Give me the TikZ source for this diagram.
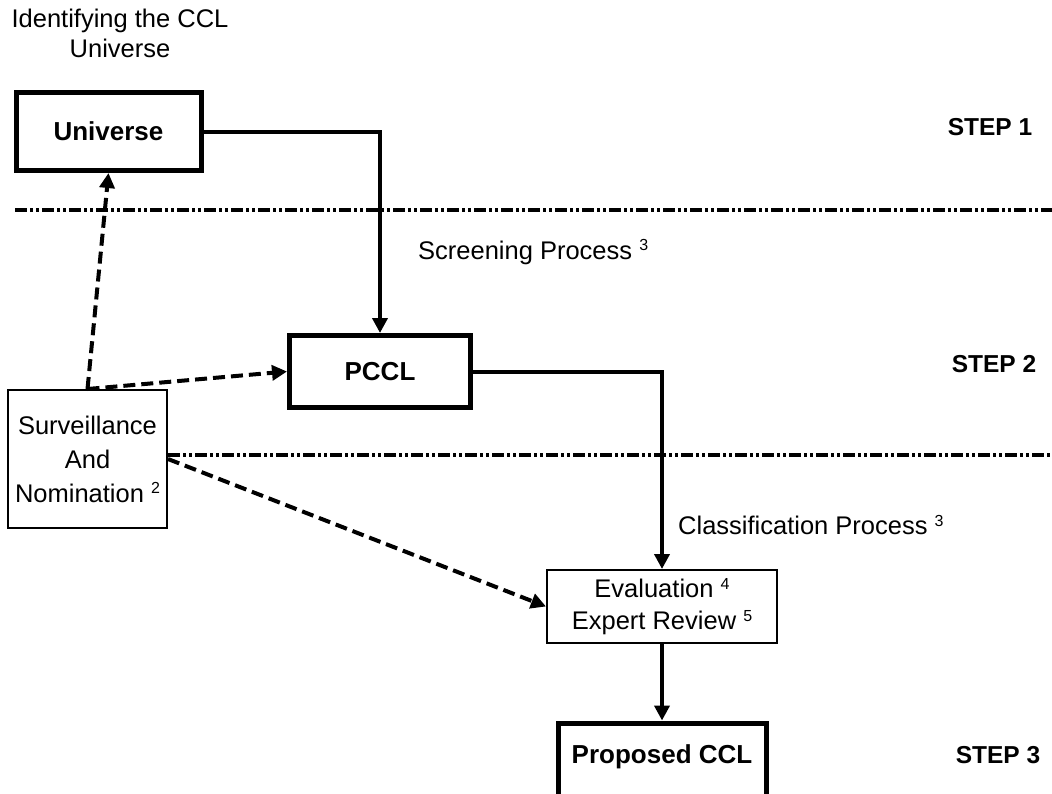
\documentclass[tikz,border=0pt]{standalone}
\usepackage{fontspec}
\setmainfont{Liberation Sans}
\usetikzlibrary{arrows.meta}
\newcommand\supnum[1]{\raisebox{8.5pt}{\fontsize{16}{16}\selectfont #1}}
\tikzset{
  every node/.style={font=\fontsize{25.5}{32}\selectfont},
  thickbox/.style={draw, line width=5pt, inner sep=0pt, font=\fontsize{26}{30}\selectfont\bfseries},
  thinbox/.style={draw, line width=2pt, inner sep=0pt, align=center},
  flow/.style={line width=4pt, -{Triangle[length=15pt,width=15pt]}},
  dflow/.style={line width=4pt, dash pattern=on 12pt off 6pt, -{Triangle[length=15pt,width=15pt]}},
  sep/.style={line width=4pt, dash pattern=on 12pt off 3pt on 3pt off 3pt on 3pt off 3pt},
  steplabel/.style={font=\fontsize{24.5}{30}\selectfont\bfseries},
  plain/.style={inner sep=0pt}
}
\begin{document}
\begin{tikzpicture}[x=1pt,y=-1pt]
\useasboundingbox (0,0) rectangle (1052,793);
\clip (0,0) rectangle (1052,793);
\fill[white] (0,0) rectangle (1052,793);

% title
\node[plain, align=center, font=\fontsize{25.5}{30}\selectfont] (title) at (120,33) {Identifying the CCL\\Universe};

% boxes
\node[thickbox, minimum width=185pt, minimum height=78pt] (univ) at (108.5,131.5) {Universe};
\node[thickbox, minimum width=181pt, minimum height=72pt] (pccl) at (380,371.5) {PCCL};
\node[thinbox, minimum width=159pt, minimum height=138pt, font=\fontsize{25.5}{34}\selectfont] (surv) at (87.5,459) {Surveillance\\And\\Nomination \supnum{2}};
\node[thinbox, minimum width=230pt, minimum height=73pt, font=\fontsize{25.5}{32}\selectfont] (eval) at (662,606.5) {Evaluation \supnum{4}\\Expert Review \supnum{5}};
\node[thickbox, minimum width=208pt, anchor=north, inner ysep=0pt, text height=40.5pt, text depth=50pt] (prop) at (662,720.5) {Proposed CCL};

% step labels
\node[steplabel, plain] (s1) at (990,127) {STEP 1};
\node[steplabel, plain] (s2) at (994,364) {STEP 2};
\node[steplabel, plain] (s3) at (998,755) {STEP 3};

% process labels
\node[plain, anchor=west] (screen) at (418,252) {Screening Process \supnum{3}};
\node[plain, anchor=west] (classif) at (678,525) {Classification Process \supnum{3}};

% separators
\draw[sep] (15,210) -- (1052,210);
\draw[sep] (surv.east |- 0,455) -- (1052,455);

% solid connectors
\draw[flow] (univ.east) -| (pccl.north);
\draw[flow] (pccl.east) -| (eval.north);
\draw[flow] (eval.south) -- (prop.north);

% dashed connectors
\draw[dflow] (surv.north) -- (univ.south);
\draw[dflow] (surv.north) -- (pccl.west);
\draw[dflow] (surv.east) -- (eval.west);
\end{tikzpicture}
\end{document}
